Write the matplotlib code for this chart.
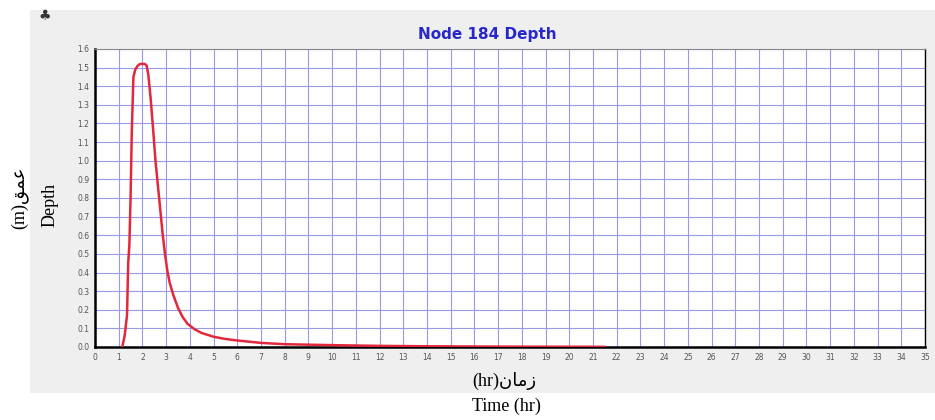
import matplotlib
matplotlib.use("Agg")
import matplotlib.pyplot as plt
from matplotlib.ticker import FormatStrFormatter

# Data
time_hr = [1.15, 1.25, 1.35, 1.40, 1.45, 1.50, 1.55, 1.62, 1.70, 1.80, 1.90, 2.00, 2.10, 2.18,
           2.25, 2.35, 2.45, 2.55, 2.65, 2.75, 2.85, 2.95, 3.05, 3.15, 3.30, 3.50, 3.70,
           3.90, 4.20, 4.50, 5.00, 5.50, 6.00, 7.00, 8.00, 10.0, 12.0, 14.0, 17.0, 21.5]
depth_m = [0.00, 0.06, 0.17, 0.45, 0.55, 0.80, 1.15, 1.45, 1.49, 1.51, 1.52, 1.52, 1.52, 1.51,
           1.46, 1.33, 1.17, 1.00, 0.87, 0.74, 0.61, 0.50, 0.41, 0.345, 0.28, 0.21, 0.16,
           0.125, 0.095, 0.075, 0.055, 0.043, 0.035, 0.022, 0.015, 0.010, 0.006, 0.004,
           0.002, 0.001]
x_ticks = list(range(0, 36))
y_ticks = [round(0.1 * i, 1) for i in range(17)]

title = "Node 184 Depth"
ylabel_en = "Depth"
ylabel_fa = "(m)\ufed6\ufee4\ufecb"          # (m)عمق in visual order
xlabel_fa = "(hr)\ufee5\ufe8e\ufee3\ufeaf"    # (hr)زمان in visual order
xlabel_en = "Time (hr)"

W, H = 935, 420
fig = plt.figure(figsize=(W / 100, H / 100), dpi=100)
fig.patch.set_facecolor("white")

# gray panel behind the chart
bg = fig.add_axes([30 / W, 1 - 393 / H, (W - 30) / W, (393 - 10) / H], zorder=-5)
bg.set_facecolor("#efefef")
bg.set_xticks([])
bg.set_yticks([])
for s in bg.spines.values():
    s.set_visible(False)

ax = fig.add_axes([95 / W, 1 - 347 / H, (925 - 95) / W, (347 - 49) / H], zorder=1)
ax.set_facecolor("white")
ax.set_xlim(0, 35)
ax.set_ylim(0, 1.6)
ax.set_xticks(x_ticks)
ax.set_yticks(y_ticks)
ax.yaxis.set_major_formatter(FormatStrFormatter("%.1f"))
ax.grid(True, color="#9a9ae4", linewidth=0.8)
ax.set_axisbelow(True)
ax.tick_params(axis="both", length=0, labelsize=5.5, labelcolor="#555555", pad=4)

for side in ["left", "bottom"]:
    ax.spines[side].set_color("black")
    ax.spines[side].set_linewidth(1.8)
ax.spines["top"].set_color("#888888")
ax.spines["top"].set_linewidth(0.8)
ax.spines["right"].set_color("black")
ax.spines["right"].set_linewidth(1.0)

ax.plot(time_hr, depth_m, color="#e2283c", linewidth=1.8, solid_joinstyle="round",
        solid_capstyle="round", zorder=3)

fig.text(487 / W, 1 - 35 / H, title, ha="center", va="center", color="#2828c8",
         fontsize=11, fontweight="bold", family="DejaVu Sans")

fig.text(50 / W, 1 - 205 / H, ylabel_en, rotation=90, ha="center", va="center",
         fontsize=13, family=["Liberation Serif", "DejaVu Sans"])
fig.text(19 / W, 1 - 198 / H, ylabel_fa, rotation=90, ha="center", va="center",
         fontsize=13, family=["Liberation Serif", "DejaVu Sans"])

fig.text(504 / W, 1 - 381 / H, xlabel_fa, ha="center", va="center",
         fontsize=13, family=["Liberation Serif", "DejaVu Sans"])
fig.text(506 / W, 1 - 406 / H, xlabel_en, ha="center", va="center",
         fontsize=13, family=["Liberation Serif", "DejaVu Sans"])

fig.text(45 / W, 1 - 16 / H, "\u2663", ha="center", va="center", fontsize=10, color="#333333",
         family="DejaVu Sans")

fig.savefig("out.png", dpi=100, facecolor=fig.get_facecolor())
